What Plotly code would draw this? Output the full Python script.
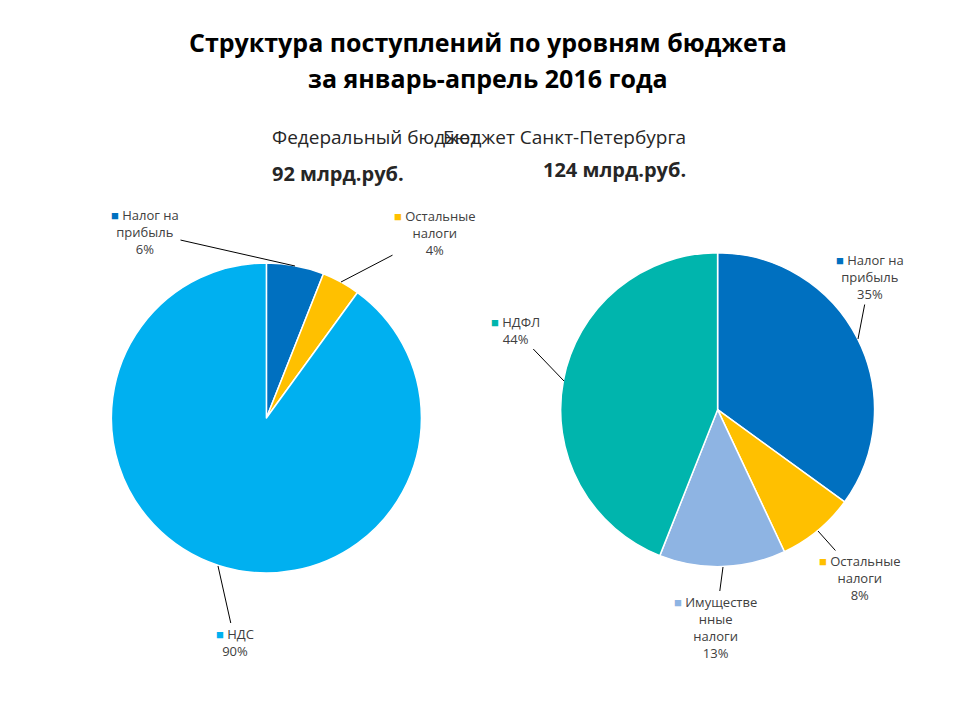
import plotly.graph_objects as go

W, H = 960, 720
font = "Open Sans"
dx, dy = 8, 8  # page offset in the browser

fed = {"labels": ["Налог на прибыль", "Остальные налоги", "НДС"],
       "values": [6, 4, 90],
       "colors": ["#0070C0", "#FFC000", "#00B0F0"]}
spb = {"labels": ["Налог на прибыль", "Остальные налоги", "Имущественные налоги", "НДФЛ"],
       "values": [35, 8, 13, 44],
       "colors": ["#0070C0", "#FFC000", "#8EB4E3", "#00B5AD"]}

def dom(x0, x1, y0, y1):
    return dict(x=[x0 - dx / W, x1 - dx / W], y=[y0 + dy / H, y1 + dy / H])

fig = go.Figure()
fig.add_trace(go.Pie(labels=fed["labels"], values=fed["values"], marker=dict(colors=fed["colors"], line=dict(color="white", width=1.5)),
                     sort=False, direction="clockwise", rotation=0, textinfo="none", hoverinfo="label+percent",
                     domain=dom(0.116, 0.439, 0.204, 0.635)))
fig.add_trace(go.Pie(labels=spb["labels"], values=spb["values"], marker=dict(colors=spb["colors"], line=dict(color="white", width=1.5)),
                     sort=False, direction="clockwise", rotation=0, textinfo="none", hoverinfo="label+percent",
                     domain=dom(0.584, 0.911, 0.213, 0.649)))

def sq(c):
    return f"<span style='color:{c}'>■</span> "

# callouts: (pointer px x, px y, text center px x, px y, text)
callouts = [
    (295, 266, 145, 232, sq("#0070C0") + "Налог на<br>прибыль<br>6%"),
    (341, 282, 435, 233, sq("#FFC000") + "Остальные<br>налоги<br>4%"),
    (218, 566, 235, 642, sq("#00B0F0") + "НДС<br>90%"),
    (858, 339, 870, 277, sq("#0070C0") + "Налог на<br>прибыль<br>35%"),
    (818, 531, 860, 578, sq("#FFC000") + "Остальные<br>налоги<br>8%"),
    (723, 567, 715, 627, sq("#8EB4E3") + "Имуществе<br>нные<br>налоги<br>13%"),
    (564, 381, 515, 330, sq("#00B5AD") + "НДФЛ<br>44%"),
]
for px_, py_, tx, ty, txt in callouts:
    px_, py_, tx, ty = px_ - dx, py_ - dy, tx - dx, ty - dy
    fig.add_annotation(x=px_ / W, y=1 - py_ / H, xref="paper", yref="paper", text=txt,
                       ax=tx - px_, ay=ty - py_, showarrow=True, arrowhead=0, arrowwidth=1, arrowcolor="black",
                       font=dict(size=13, color="#404040"), align="center")

texts = [
    (480, 15, "<b>Структура поступлений по уровням бюджета</b>", 25, "black"),
    (480, 51, "<b>за январь-апрель 2016 года</b>", 25, "black"),
    (262, 114, "Федеральный бюджет", 19, "#262626"),
    (262, 150, "<b>92 млрд.руб.</b>", 20, "#262626"),
    (680, 114, "Бюджет Санкт-Петербурга", 19, "#262626"),
    (680, 146, "<b>124 млрд.руб.</b>", 20, "#262626"),
]
for x, y, t, s, c in texts:
    fig.add_annotation(x=x / W, y=1 - y / H, xref="paper", yref="paper", text=t, showarrow=False,
                       font=dict(size=s, color=c))

fig.update_layout(width=W, height=H, margin=dict(l=0, r=0, t=0, b=0), showlegend=False,
                  paper_bgcolor="white", font=dict(family=font))
fig.write_html("out.html")
